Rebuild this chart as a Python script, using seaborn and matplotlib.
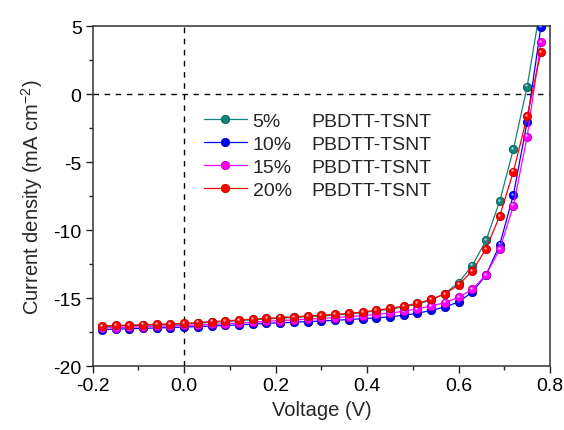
import numpy as np
import pandas as pd
import matplotlib
matplotlib.use("Agg")
import matplotlib.pyplot as plt
import matplotlib.transforms as mtransforms
import seaborn as sns
from matplotlib.lines import Line2D
from matplotlib.ticker import MultipleLocator

voltage = [-0.18, -0.15, -0.12, -0.09, -0.06, -0.03, 0.00, 0.03, 0.06, 0.09, 0.12,
           0.15, 0.18, 0.21, 0.24, 0.27, 0.30, 0.33, 0.36, 0.39, 0.42, 0.45,
           0.48, 0.51, 0.54, 0.57, 0.60, 0.63, 0.66, 0.69, 0.72, 0.75, 0.78]

j_5 = [-17.08, -17.05, -17.02, -16.99, -16.96, -16.93, -16.89, -16.83, -16.77, -16.71, -16.65,
       -16.58, -16.52, -16.47, -16.41, -16.35, -16.30, -16.23, -16.16, -16.06, -15.93, -15.80,
       -15.63, -15.43, -15.12, -14.65, -13.85, -12.60, -10.75, -7.86, -4.02, 0.56, 6.60]
j_10 = [-17.30, -17.27, -17.24, -17.21, -17.18, -17.15, -17.12, -17.08, -17.04, -17.00, -16.95,
        -16.90, -16.84, -16.80, -16.76, -16.71, -16.67, -16.62, -16.56, -16.50, -16.44, -16.36,
        -16.25, -16.10, -15.89, -15.64, -15.27, -14.54, -13.30, -11.06, -7.39, -2.01, 4.96]
j_15 = [-17.18, -17.15, -17.12, -17.09, -17.06, -17.03, -17.00, -16.96, -16.92, -16.87, -16.82,
        -16.76, -16.69, -16.64, -16.59, -16.53, -16.48, -16.42, -16.35, -16.27, -16.19, -16.09,
        -15.95, -15.77, -15.57, -15.32, -14.93, -14.35, -13.27, -11.41, -8.18, -3.11, 3.82]
j_20 = [-17.03, -17.00, -16.97, -16.94, -16.91, -16.88, -16.84, -16.78, -16.72, -16.66, -16.60,
        -16.53, -16.47, -16.42, -16.36, -16.30, -16.25, -16.18, -16.11, -16.01, -15.88, -15.75,
        -15.57, -15.37, -15.08, -14.69, -14.00, -13.00, -11.36, -8.94, -5.68, -1.62, 3.08]

series_names = ["5%", "10%", "15%", "20%"]
series_values = [j_5, j_10, j_15, j_20]
series_colors = ["#12847c", "#0000ff", "#ff00ff", "#ff0000"]
edge_colors = ["#0a5a54", "#0000aa", "#b000b0", "#c00000"]
highlight_colors = ["#9fd6d1", "#a0a0ff", "#ffc0ff", "#ffb0b0"]
polymer = "PBDTT-TSNT"

sns.set_theme(style="ticks")
plt.rcParams["font.family"] = ["Liberation Sans", "DejaVu Sans"]
plt.rcParams["mathtext.fontset"] = "custom"
plt.rcParams["mathtext.rm"] = "Liberation Sans"
plt.rcParams["mathtext.it"] = "Liberation Sans"
plt.rcParams["axes.unicode_minus"] = False

df = pd.concat([pd.DataFrame({"V": voltage, "J": vals, "series": name})
                for name, vals in zip(series_names, series_values)], ignore_index=True)

fig = plt.figure(figsize=(5.64, 4.31), dpi=100)
ax = fig.add_axes([0.1644, 0.1478, 0.9752 - 0.1644, 0.9367 - 0.1478])

ax.axvline(0, color="black", lw=1.0, ls=(0, (4, 4)), zorder=1)
ax.axhline(0, color="black", lw=1.0, ls=(0, (4, 4)), zorder=1)

hl_tr = mtransforms.offset_copy(ax.transData, fig=fig, x=-0.7, y=0.9, units="points")
for k, (name, c, ec, hc) in enumerate(zip(series_names, series_colors, edge_colors, highlight_colors)):
    sub = df[df["series"] == name]
    sns.lineplot(data=sub, x="V", y="J", color=c, marker="o", markersize=6,
                 linewidth=0.9, markeredgecolor=ec, markeredgewidth=0.6,
                 ax=ax, legend=False, zorder=3 + 2 * k)
    sns.scatterplot(data=sub, x="V", y="J", color=hc, s=3, linewidth=0,
                    ax=ax, legend=False, zorder=4 + 2 * k, transform=hl_tr)

ax.set_xlim(-0.2, 0.8)
ax.set_ylim(-20, 5)
ax.xaxis.set_major_locator(MultipleLocator(0.2))
ax.xaxis.set_minor_locator(MultipleLocator(0.1))
ax.yaxis.set_major_locator(MultipleLocator(5))
ax.yaxis.set_minor_locator(MultipleLocator(2.5))
ax.xaxis.set_major_formatter(matplotlib.ticker.FormatStrFormatter("%.1f"))
ax.tick_params(which="major", direction="out", length=5, width=1, labelsize=14,
               colors="#222222", labelcolor="black", pad=3)
ax.tick_params(which="minor", direction="out", length=3, width=1, colors="#222222")
for s in ax.spines.values():
    s.set_linewidth(1.1)
    s.set_color("#333333")

ax.set_xlabel("Voltage (V)", fontsize=14.5, labelpad=4)
ax.set_ylabel("Current density (mA cm$^{-2}$)", fontsize=14.5, labelpad=6)

handles = [Line2D([], [], color=c, marker="o", markersize=6, lw=0.9,
                  markeredgecolor=ec, markeredgewidth=0.6)
           for c, ec in zip(series_colors, edge_colors)]
leg1 = ax.legend(handles, series_names, loc="upper left", bbox_to_anchor=(0.2435, 0.746),
                 frameon=False, fontsize=14, handlelength=2.2, handletextpad=0.3,
                 labelspacing=0.27, borderpad=0, borderaxespad=0)
ax.add_artist(leg1)
blank = [Line2D([], [], color="none") for _ in series_names]
ax.legend(blank, [polymer] * len(series_names), loc="upper left",
          bbox_to_anchor=(0.479, 0.746), frameon=False, fontsize=14,
          handlelength=0, handletextpad=0, labelspacing=0.27, borderpad=0,
          borderaxespad=0)

fig.savefig("out.png", dpi=100)
